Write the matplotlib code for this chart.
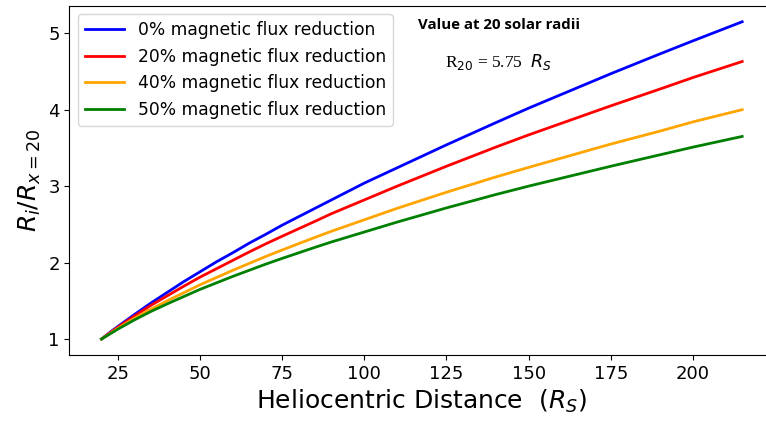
import numpy as np
import matplotlib
matplotlib.use('Agg')
from matplotlib import pyplot as plt

# heliocentric distance in solar radii
distance = [20, 22.5, 25, 30, 35, 40, 45, 50, 55, 60, 65, 70, 75, 85, 90, 100,
            110, 125, 140, 150, 175, 190, 200, 215]

# radius ratio R_i / R_(x=20) for each flux reduction case
ratio_0 = [1.00, 1.085, 1.165, 1.32, 1.47, 1.61, 1.75, 1.88, 2.01, 2.13, 2.255, 2.37,
           2.49, 2.71, 2.82, 3.04, 3.24, 3.54, 3.83, 4.02, 4.47, 4.73, 4.90, 5.15]
ratio_20 = [1.00, 1.08, 1.155, 1.30, 1.44, 1.565, 1.69, 1.81, 1.92, 2.03, 2.14, 2.245,
            2.345, 2.54, 2.64, 2.82, 3.00, 3.26, 3.51, 3.67, 4.05, 4.27, 4.42, 4.63]
ratio_40 = [1.00, 1.07, 1.14, 1.27, 1.39, 1.50, 1.605, 1.71, 1.805, 1.90, 1.99, 2.08,
            2.165, 2.33, 2.41, 2.56, 2.71, 2.92, 3.12, 3.245, 3.55, 3.72, 3.84, 4.00]
ratio_50 = [1.00, 1.065, 1.13, 1.25, 1.36, 1.46, 1.555, 1.65, 1.735, 1.82, 1.90, 1.98,
            2.055, 2.20, 2.27, 2.40, 2.53, 2.715, 2.89, 3.00, 3.26, 3.41, 3.51, 3.65]

labels = ['0% magnetic flux reduction', '20% magnetic flux reduction',
          '40% magnetic flux reduction', '50% magnetic flux reduction']
colors = ['blue', 'red', 'orange', 'green']

fig = plt.figure(figsize=(7.66, 4.21), dpi=100)
# axes run past the right edge of the canvas, so the right spine is cut off
ax = fig.add_axes([0.0907, 0.157, 0.920, 0.829])

for y, lab, c in zip([ratio_0, ratio_20, ratio_40, ratio_50], labels, colors):
    ax.plot(distance, y, color=c, lw=2, label=lab)

ax.set_xlim(10.25, 224.75)
ax.spines['right'].set_visible(False)
ax.set_xticks([25, 50, 75, 100, 125, 150, 175, 200])
ax.set_yticks([1, 2, 3, 4, 5])
ax.tick_params(labelsize=13)
ax.set_xlabel('Heliocentric Distance  $(R_S)$', fontsize=18)
ax.set_ylabel('$R_i/R_{x=20}$', fontsize=18)
ax.legend(loc='upper left', fontsize=12.3, handlelength=2.3)

fig.text(418 / 766, 1 - 25 / 421, 'Value at 20 solar radii', fontsize=10.8,
         fontweight='bold', family='Open Sans', va='center', ha='left')
fig.text(445 / 766, 1 - 62 / 421, r'R$_{20}$ = 5.75  $R_S$', fontsize=12.5,
         family='Liberation Serif', va='center', ha='left')

fig.savefig('out.png', dpi=100)
